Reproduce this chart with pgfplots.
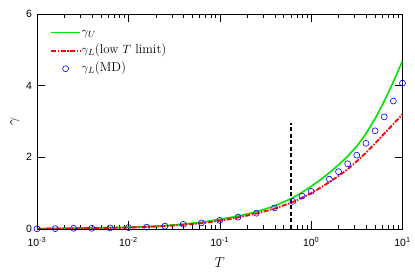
\documentclass[border=0pt]{standalone}
\usepackage{pgfplots}
\pgfplotsset{compat=1.18}
\usepackage{fontspec}
\newfontfamily\ticksf{Liberation Sans}
\definecolor{mgreen}{RGB}{0,230,0}
\pgfplotsset{mylegend/.style={legend image code/.code={\draw[mark repeat=2,mark phase=2,##1] plot coordinates {(0bp,0bp) (14.5bp,0bp) (29bp,0bp)};}}}
\begin{document}
\begin{tikzpicture}
\begin{semilogxaxis}[
  scale only axis,
  width=365.5bp, height=215bp,
  xmin=0.001, xmax=10, ymin=0, ymax=6,
  xtick={0.001,0.01,0.1,1,10},
  xticklabels={10\textsuperscript{-3},10\textsuperscript{-2},10\textsuperscript{-1},10\textsuperscript{0},10\textsuperscript{1}},
  ytick={0,2,4,6}, yticklabels={0,2,4,6},
  tick label style={font=\ticksf\fontsize{10.5}{12}\selectfont},
  x tick label style={yshift=-4.5bp},
  y tick label style={xshift=-1.5bp},
  major tick length=8bp, minor tick length=4.3bp,
  tick align=inside, tick pos=both,
  axis line style={line width=0.5bp},
  every tick/.style={black, line width=0.5bp},
  xlabel={$T$}, ylabel={$\gamma$},
  label style={font=\fontsize{15}{18}\selectfont},
  xlabel style={yshift=-5bp},
  legend style={draw=none, fill=none, inner xsep=0pt, inner ysep=0pt,
    at={(axis description cs:0,1)}, anchor=north west, xshift=13bp, yshift=-9.5bp,
    font=\fontsize{13}{15}\selectfont, row sep=0pt,
    nodes={inner xsep=1bp, inner ysep=2.5bp, text height=9.75bp, text depth=3.25bp}},
  legend cell align=left,
]
\addplot[mgreen, line width=1.6bp, mylegend] coordinates {
(0.001,0.01) (0.001585,0.015) (0.003981,0.03) (0.01,0.05) (0.01585,0.07) (0.02512,0.095) (0.03981,0.135) (0.0631,0.19) (0.1,0.27) (0.1585,0.36) (0.2512,0.48) (0.3981,0.64) (0.631,0.87) (0.7943,1.02) (1,1.19) (1.259,1.37) (1.585,1.57) (1.995,1.79) (2.512,2.03) (3.162,2.31) (3.981,2.66) (5.012,3.08) (6.310,3.57) (7.943,4.11) (10,4.69)};
\addlegendentry{$\gamma_U$}
\addplot[color=red, line width=1.8bp, dash pattern=on 5bp off 1.5bp on 1.5bp off 1.5bp, mylegend] coordinates {
(0.001,0.008) (0.001585,0.012) (0.003981,0.022) (0.01,0.04) (0.01585,0.055) (0.02512,0.08) (0.03981,0.115) (0.0631,0.16) (0.1,0.23) (0.1585,0.32) (0.2512,0.43) (0.3981,0.57) (0.631,0.75) (0.7943,0.87) (1,1.0) (1.259,1.15) (1.585,1.31) (1.995,1.48) (2.512,1.67) (3.162,1.89) (3.981,2.13) (5.012,2.39) (6.310,2.66) (7.943,2.93) (10,3.20)};
\addlegendentry{$\gamma_L$(low $T$ limit)}
\addplot[color=blue, only marks, mark=o, mark size=3bp, line width=0.6bp, mylegend] coordinates {
(0.001,0.005) (0.001585,0.01) (0.002512,0.02) (0.003981,0.02) (0.00631,0.03) (0.01,0.04) (0.01585,0.05) (0.02512,0.08) (0.03981,0.13) (0.0631,0.17) (0.1,0.24) (0.1585,0.33) (0.2512,0.44) (0.3981,0.59) (0.631,0.77) (0.7943,0.92) (1,1.05) (1.585,1.39) (1.995,1.60) (2.512,1.82) (3.162,2.06) (3.981,2.39) (5.012,2.74) (6.310,3.13) (7.943,3.57) (10,4.07)};
\addlegendentry{$\gamma_L$(MD)}
\addplot[black, line width=1.5bp, dash pattern=on 4bp off 2.5bp, forget plot] coordinates {(0.6,0) (0.6,2.95)};
\end{semilogxaxis}
\pgfresetboundingbox
\path ([shift={(-37bp,-48bp)}]current axis.south west) rectangle ([shift={(12.5bp,14bp)}]current axis.north east);
\end{tikzpicture}
\end{document}
